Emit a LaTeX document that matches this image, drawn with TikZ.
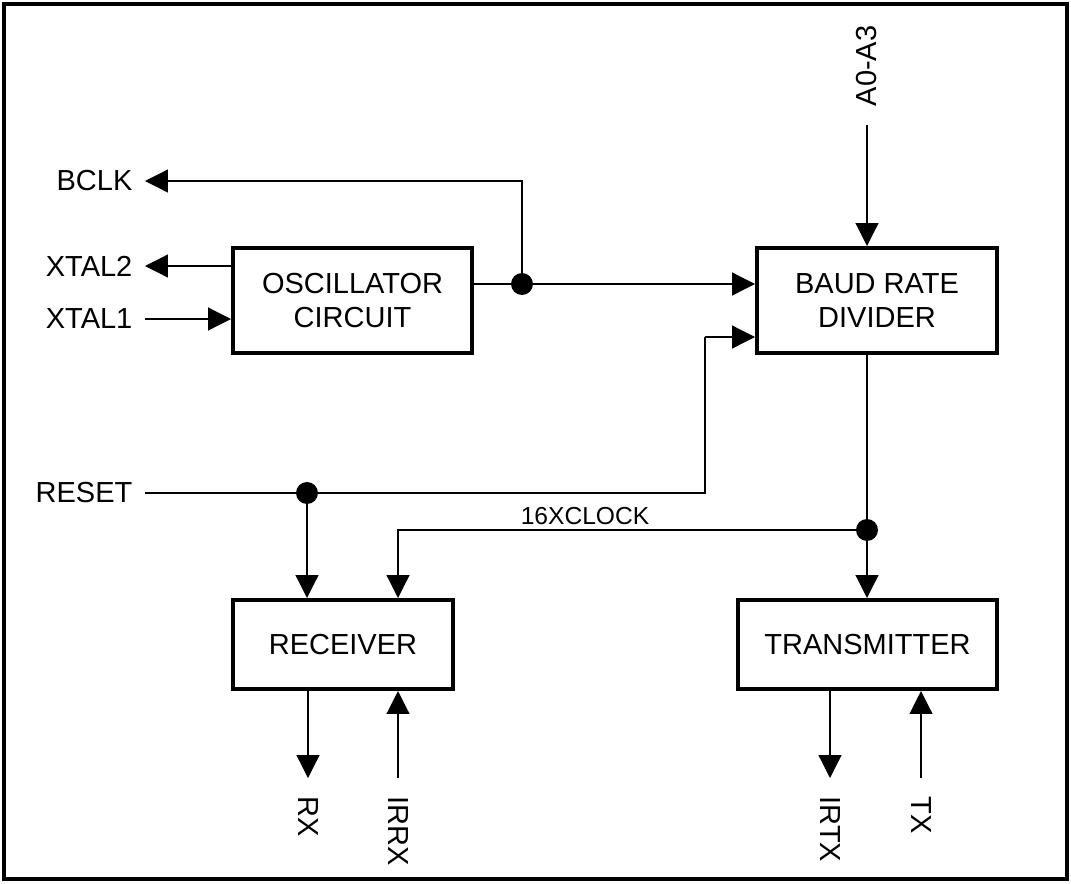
\documentclass[tikz,border=0pt]{standalone}
\usepackage{fontspec}
\setmainfont{Liberation Sans}
\usetikzlibrary{arrows.meta}
\begin{document}
\begin{tikzpicture}[
  x=0.02cm, y=-0.02cm,
  block/.style={draw, line width=2.3pt, align=center, font=\fontsize{16.5}{19.5}\selectfont},
  pin/.style={inner sep=7pt, font=\fontsize{16.5}{19.5}\selectfont},
  vpin/.style={pin, inner sep=10.5pt},
  wire/.style={line width=0.7pt},
  sig/.style={wire, -{Triangle[length=13pt,width=13pt]}},
  dot/.style={circle, fill, inner sep=0pt, minimum size=12.5pt}
]
\useasboundingbox (0,0) rectangle (1071,883);
\draw[line width=2.8pt] (4,4) rectangle (1067,879);

% blocks
\node[block, minimum width=4.78cm, minimum height=2.1cm] (osc) at (352.5,300.5) {OSCILLATOR\\CIRCUIT};
\node[block, minimum width=4.8cm, minimum height=2.1cm] (baud) at (877,300.5) {BAUD RATE\\DIVIDER};
\node[block, minimum width=4.4cm, minimum height=1.78cm] (rcv) at (343,644.5) {RECEIVER};
\node[block, minimum width=5.18cm, minimum height=1.78cm] (xmt) at (867.5,644.5) {TRANSMITTER};

% pins on the left and top
\node[pin, anchor=east] (bclk) at (145,181) {BCLK};
\node[pin, anchor=east] (xtal2) at (145,266) {XTAL2};
\node[pin, anchor=east] (xtal1) at (145,319) {XTAL1};
\node[pin, anchor=east] (reset) at (145,493) {RESET};
\node[vpin, rotate=90, anchor=west] (a03) at (867,125) {A0-A3};

% junctions
\node[dot] (j1) at (522,284) {};
\node[dot] (j2) at (307,493) {};
\node[dot] (j3) at (867,530) {};
\coordinate (r1) at (705,493);
\coordinate (r2) at (705,337);
\coordinate (c16) at (398,530);

% clock path
\draw[wire] (osc.east |- j1) -- (j1);
\draw[sig] (j1) -- (j1 -| baud.west);
\draw[sig] (j1) |- (bclk.east);
\draw[sig] (osc.west |- xtal2.east) -- (xtal2.east);
\draw[sig] (xtal1.east) -- (xtal1.east -| osc.west);
\draw[sig] (a03.west) -- (a03.west |- baud.north);

% reset
\draw[wire] (reset.east) -- (j2) -- (r1) -- (r2);
\draw[sig] (r2) -- (r2 -| baud.west);
\draw[sig] (j2) -- (j2 |- rcv.north);

% 16x clock
\draw[wire] (j3 |- baud.south) -- (j3);
\draw[sig] (j3) -- (j3 |- xmt.north);
\draw[sig] (j3) -- (c16) -- (c16 |- rcv.north);
\node[anchor=south, inner sep=3pt, font=\fontsize{14}{16}\selectfont] (clk) at (585,530) {16XCLOCK};

% serial pins
\foreach \x/\name/\blk in {308/RX/rcv, 830/IRTX/xmt} {
  \node[vpin, rotate=-90, anchor=west] (p\name) at (\x,778) {\name};
  \draw[sig] (p\name.west |- \blk.south) -- (p\name.west);
}
\foreach \x/\name/\blk in {398/IRRX/rcv, 921/TX/xmt} {
  \node[vpin, rotate=-90, anchor=west] (p\name) at (\x,778) {\name};
  \draw[sig] (p\name.west) -- (p\name.west |- \blk.south);
}
\end{tikzpicture}
\end{document}
